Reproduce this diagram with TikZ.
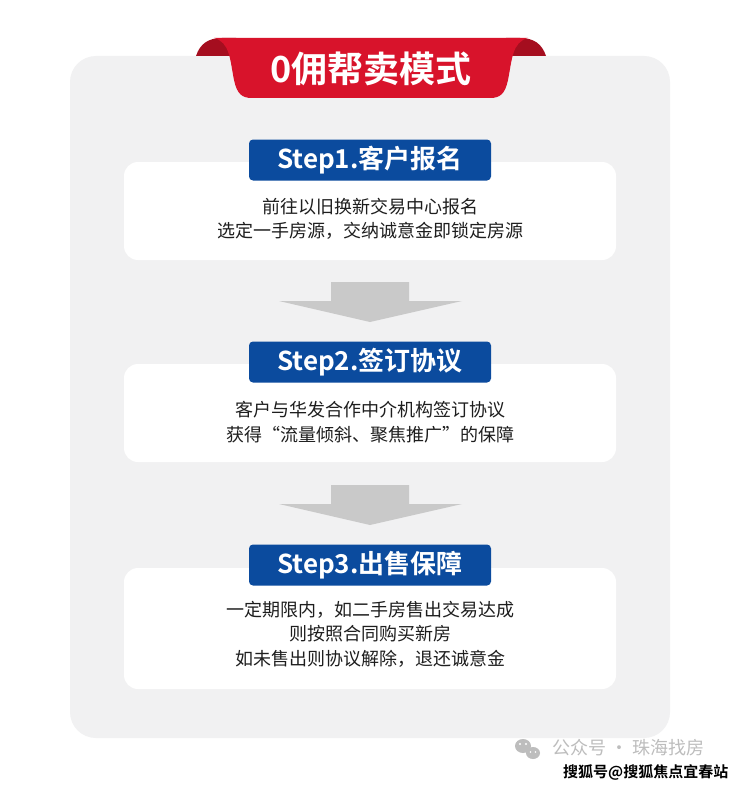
\documentclass[tikz,border=0pt]{standalone}
\usepackage{fontspec}
\newfontfamily\cjk{Noto Sans CJK SC}
\newfontfamily\cjkb{Noto Sans CJK SC Bold}
\definecolor{panelgray}{HTML}{F1F1F2}
\definecolor{ribred}{HTML}{D8132B}
\definecolor{ribdark}{HTML}{A50E1F}
\definecolor{stepblue}{HTML}{0B4B9E}
\definecolor{arrowgray}{HTML}{C9C9C9}
\definecolor{txt}{HTML}{1E1E1E}
\definecolor{wmgray}{HTML}{BDBDBD}
\tikzset{
  card/.style={fill=white, rounded corners=14pt, draw=none},
  steplabel/.style={fill=stepblue, rounded corners=4pt, minimum width=242pt, minimum height=41pt, inner sep=0pt, text=white, font=\cjkb\fontsize{26}{30}\selectfont},
  cardtext/.style={text=txt, align=center, font=\cjk\fontsize{18}{24.5}\selectfont, inner sep=0pt},
  flowarrow/.style={fill=arrowgray, draw=none},
}
\begin{document}
\begin{tikzpicture}[x=1pt,y=-1pt]
\useasboundingbox (0,0) rectangle (740,789);
\fill[white] (0,0) rectangle (740,789);
% panel
\fill[panelgray, rounded corners=26pt] (70,56) rectangle (670,738);
% ribbon flaps
\fill[ribdark] (196,56) .. controls (200,44) and (208,38) .. (222,38) -- (236,38) -- (236,56) -- cycle;
\fill[ribdark] (546,56) .. controls (542,44) and (534,38) .. (520,38) -- (506,38) -- (506,56) -- cycle;
% ribbon main
\fill[ribred] (214,38) -- (528,38) .. controls (512,42) and (512,60) .. (508,80) .. controls (505,94) and (500,98) .. (490,98) -- (252,98) .. controls (242,98) and (237,94) .. (234,80) .. controls (230,60) and (230,42) .. (214,38) -- cycle;
\node[text=white, font=\cjkb\fontsize{36}{40}\selectfont, inner sep=0pt] (title) at (371,69) {0佣帮卖模式};
% cards
\fill[card] (124,162) rectangle (616,260);
\fill[card] (124,364) rectangle (616,462);
\fill[card] (124,568) rectangle (616,689);
% step labels
\node[steplabel] (s1) at (370,160) {Step1.客户报名};
\node[steplabel] (s2) at (370,362) {Step2.签订协议};
\node[steplabel] (s3) at (370,565) {Step3.出售保障};
% card texts
\node[cardtext] (t1) at (370,219) {前往以旧换新交易中心报名\\选定一手房源，交纳诚意金即锁定房源};
\node[cardtext] (t2) at (370,422) {客户与华发合作中介机构签订协议\\获得“流量倾斜、聚焦推广”的保障};
\node[cardtext] (t3) at (370,634) {一定期限内，如二手房售出交易达成\\则按照合同购买新房\\如未售出则协议解除，退还诚意金};
% arrows
\fill[flowarrow] (331,282) -- (409,282) -- (409,301) -- (462,301) -- (370,322) -- (279,301) -- (331,301) -- cycle;
\fill[flowarrow] (331,485) -- (409,485) -- (409,504) -- (462,504) -- (370,525) -- (279,504) -- (331,504) -- cycle;
% watermark
\fill[wmgray] (523,746) ellipse (8pt and 7pt);
\fill[wmgray] (533,753) ellipse (7pt and 6pt);
\fill[white] (520,744) circle (1.1pt);
\fill[white] (526,744) circle (1.1pt);
\fill[white] (530.5,752) circle (0.9pt);
\fill[white] (535.5,752) circle (0.9pt);
\node[anchor=west, text=wmgray, font=\cjk\fontsize{18}{20}\selectfont, inner sep=0pt] (wm1) at (552,748) {公众号 · 珠海找房};
\node[anchor=west, text=black, font=\cjkb\fontsize{15}{18}\selectfont, inner sep=0pt] (wm2) at (563,772) {搜狐号@搜狐焦点宜春站};
\end{tikzpicture}
\end{document}
